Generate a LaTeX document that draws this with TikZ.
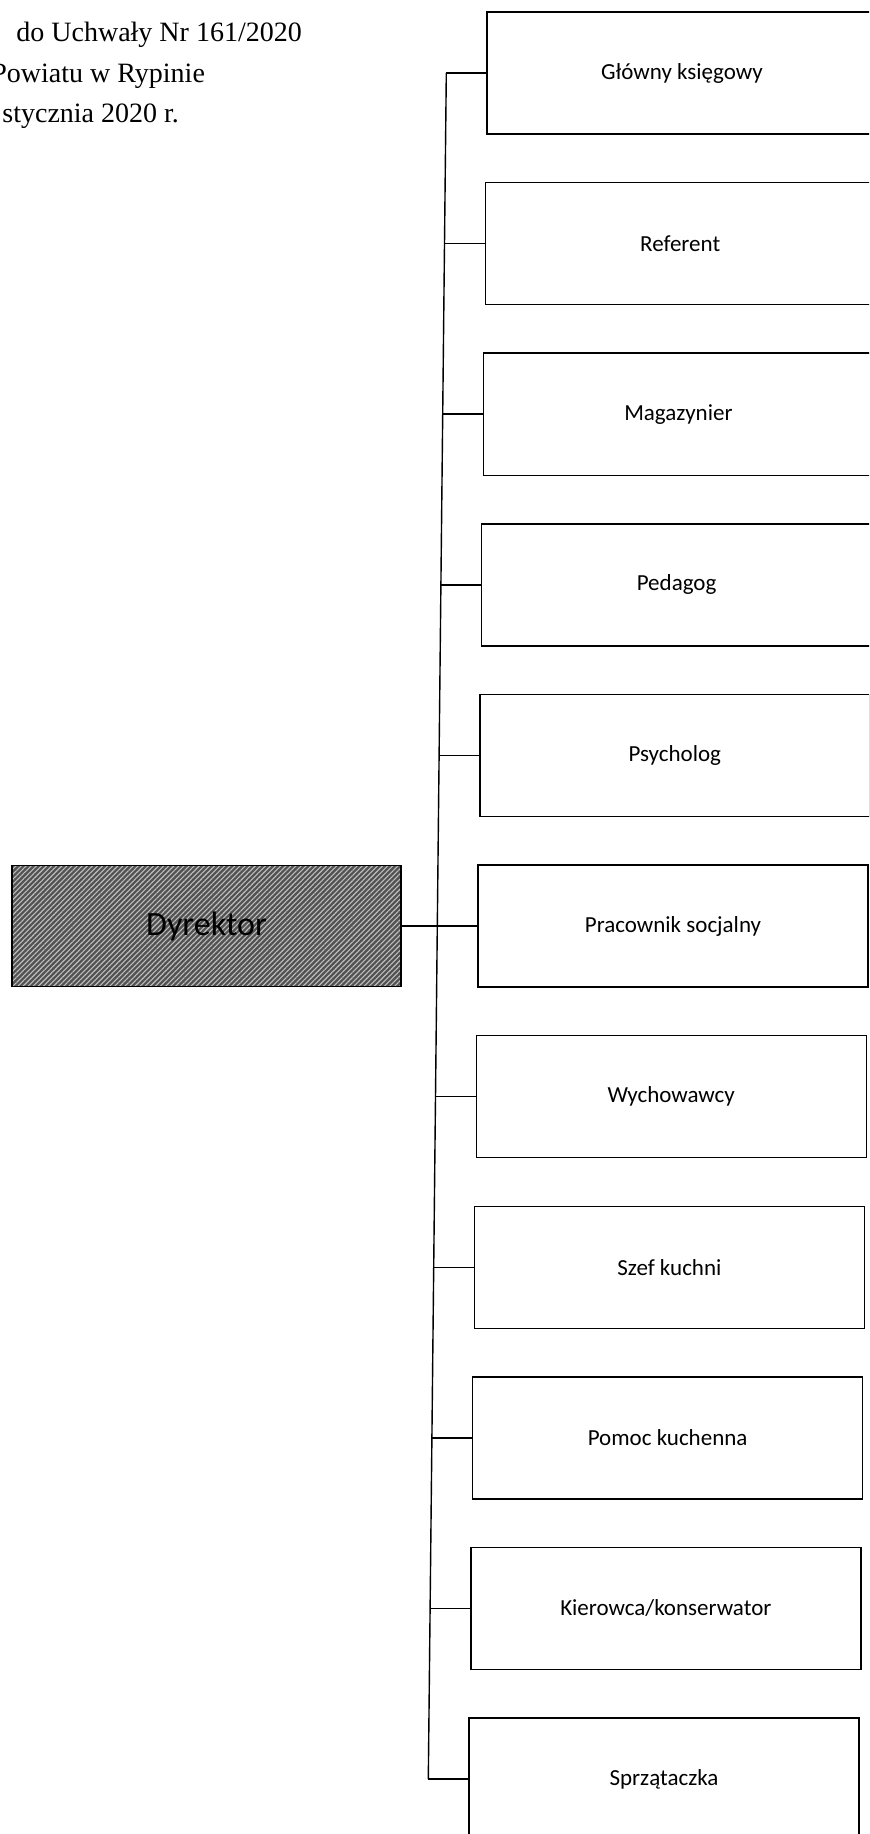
\documentclass[tikz,border=0pt]{standalone}
\usepackage{fontspec}
\setmainfont{Liberation Serif}
\newfontfamily\calibrifont{Carlito}
\usepackage{xcolor,tikz}
\usetikzlibrary{patterns,patterns.meta}

\begin{document}
\begin{tikzpicture}[x=0.5pt,y=-0.5pt,
    uchwala/.style={anchor=base west, inner sep=0pt, font=\fontsize{14}{17}\selectfont},
    posada/.style={draw=black, line width=0.7pt, minimum width=195pt, minimum height=61pt,
      inner sep=0pt, font=\calibrifont\fontsize{11.5}{14}\selectfont},
    szef/.style={draw=black, line width=0.7pt, minimum width=194.5pt, minimum height=60.5pt,
      inner sep=0pt, font=\calibrifont\fontsize{17}{20}\selectfont,
      preaction={fill=black!68}, pattern={Lines[angle=45,distance=1.8pt,line width=0.55pt]},
      pattern color=white!75!black},
    linia/.style={draw=black, line width=0.7pt}]
          \useasboundingbox (0,0) rectangle (869,1834);
          \clip (0,0) rectangle (869,1834);
          % naglowek
          \node[uchwala] (uchwala1) at (16,42) {do Uchwały Nr 161/2020};
          \node[uchwala] (uchwala2) at (-9,83) {Powiatu w Rypinie};
          \node[uchwala] (uchwala3) at (2,123) {stycznia 2020 r.};
          % stanowiska
          \foreach \nazwa [count=\i from 0] in {Główny księgowy, Referent, Magazynier, Pedagog,
              Psycholog, Pracownik socjalny, Wychowawcy, Szef kuchni, Pomoc kuchenna,
              Kierowca/konserwator, Sprzątaczka}
          {
            \node[posada] (st\i) at ({682-1.8*\i},{73+170.6*\i}) {\nazwa};
            \coordinate (w\i) at ([xshift=-20pt]st\i.west);
            \draw[linia] (st\i.west) -- (w\i);
          }
          \draw[linia] (w0) -- (w10);
          % dyrektor
          \node[szef] (dyr) at (206.5,926) {Dyrektor};
          \draw[linia] (dyr.east) -- (st5.west);
        \end{tikzpicture}
\end{document}
